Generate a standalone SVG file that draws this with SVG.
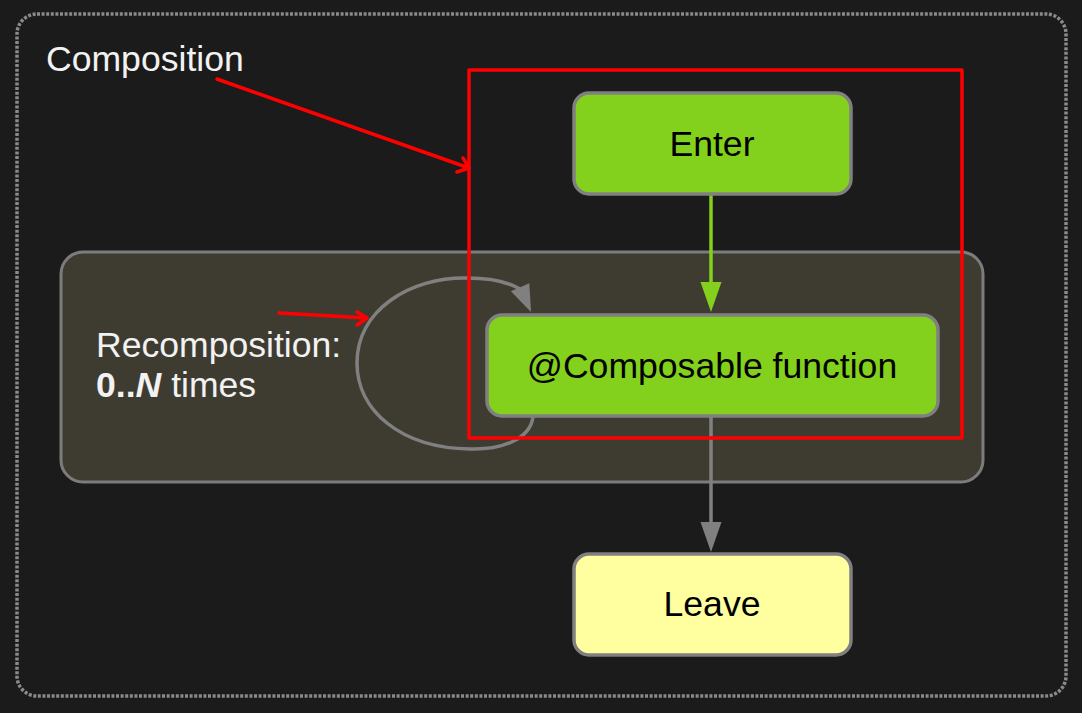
<svg xmlns="http://www.w3.org/2000/svg" width="1082" height="713" viewBox="0 0 1082 713">
<style>
text{font-family:"Liberation Sans",Arial,sans-serif;font-size:35.6px}
.lbl{fill:#f2f2f2}
.nt{fill:#000;text-anchor:middle}
.node{stroke:#808080;stroke-width:3.5}
.green{fill:#83d11c}
.yellow{fill:#ffff9f}
.red{fill:none;stroke:#ff0000;stroke-width:3.5;stroke-linecap:round;stroke-linejoin:round}
</style>
<rect x="0" y="0" width="1082" height="713" fill="#1b1b1b"/>
<rect id="outer" x="17" y="14" width="1049" height="682" rx="20" fill="none" stroke="#8a8a8a" stroke-width="3.5" stroke-dasharray="3 1.6"/>
<g id="recomposition">
<rect x="61" y="252" width="922" height="230" rx="22" fill="#3e3c31" stroke="#7c7c7c" stroke-width="3"/>
<text class="lbl" x="96" y="357">Recomposition:</text>
<text class="lbl" x="96" y="397"><tspan font-weight="bold">0..</tspan><tspan font-weight="bold" font-style="italic">N</tspan> times</text>
</g>
<g id="connectors">
<line x1="711" y1="195" x2="711" y2="284" stroke="#83d11c" stroke-width="3.5"/>
<polygon points="700.5,282 721.5,282 711,312" fill="#83d11c"/>
<line x1="711" y1="417" x2="711" y2="524" stroke="#808080" stroke-width="3.5"/>
<polygon points="700.5,522 721.5,522 711,552" fill="#808080"/>
<path d="M533 417 C530 440,500 450,470 449 C400 448,357 410,357 363 C357 310,410 277,467 278 C490 278,508 282,520 289" fill="none" stroke="#808080" stroke-width="3.5"/>
<polygon points="531,312 529.3,283.3 510.9,291.3" fill="#808080"/>
</g>
<g id="enter">
<rect class="node green" x="574" y="93" width="277" height="101" rx="15"/>
<text class="nt" x="712" y="156">Enter</text>
</g>
<g id="composable">
<rect class="node green" x="487" y="315" width="451" height="101" rx="15"/>
<text class="nt" x="712" y="378">@Composable function</text>
</g>
<g id="leave">
<rect class="node yellow" x="574" y="554" width="277" height="101" rx="15"/>
<text class="nt" x="712" y="616">Leave</text>
</g>
<g id="annotations">
<rect class="red" x="469" y="70" width="493" height="368" stroke-linecap="butt" stroke-linejoin="miter" stroke-width="3"/>
<text class="lbl" x="46" y="71">Composition</text>
<path class="red" d="M217 79 L469 168 M457 172 L469 168 L463 158"/>
<path class="red" d="M279 313 L367 318 M357 312 L367 318 L357 325"/>
</g>
</svg>
